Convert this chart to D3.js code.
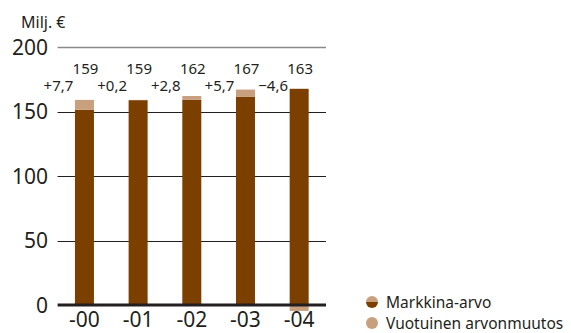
<!DOCTYPE html>
<html>
<head>
<meta charset="utf-8">
<script src="https://cdn.jsdelivr.net/npm/d3@7"></script>
<style>
  body { margin: 0; background: #fff; }
  text { font-family: "Noto Sans", sans-serif; fill: #231f20; }
</style>
</head>
<body>
<div id="chart"></div>
<script>
// Data
var years = ["-00", "-01", "-02", "-03", "-04"];
var totals = [159, 159, 162, 167, 163];
var changes = [7.7, 0.2, 2.8, 5.7, -4.6];
var totalLabels = ["159", "159", "162", "167", "163"];
var changeLabels = ["+7,7", "+0,2", "+2,8", "+5,7", "\u22124,6"];
var yTicks = [0, 50, 100, 150, 200];
var legendLabels = ["Markkina-arvo", "Vuotuinen arvonmuutos"];

var darkColor = "#7b3f00";
var lightColor = "#c9a07e";

var svgWidth = 571;
var svgHeight = 333;

var svg = d3.select("#chart")
  .append("svg")
  .attr("width", svgWidth)
  .attr("height", svgHeight);

// Scales
var xScale = d3.scaleBand()
  .domain(years)
  .range([57.6, 326])
  .paddingInner(0.646)
  .paddingOuter(0.323);

var yScale = d3.scaleLinear()
  .domain([0, 200])
  .range([305, 47]);

// Gridlines
svg.selectAll(".grid")
  .data(yTicks.filter(d => d > 0))
  .enter()
  .append("line")
  .attr("x1", 57.6)
  .attr("x2", 326)
  .attr("y1", d => Math.round(yScale(d)) + 0.5)
  .attr("y2", d => Math.round(yScale(d)) + 0.5)
  .attr("stroke", d => d === 200 ? "#8a8a8a" : "#231f20")
  .attr("stroke-width", d => d === 200 ? 1.5 : 1);

// Tick labels
svg.selectAll(".ytick")
  .data(yTicks)
  .enter()
  .append("text")
  .attr("x", 48)
  .attr("y", d => yScale(d) + 7.5)
  .attr("text-anchor", "end")
  .attr("font-size", "21px")
  .text(d => d);

svg.append("text")
  .attr("x", 21)
  .attr("y", 28)
  .attr("font-size", "16px")
  .text("Milj. \u20ac");

// Bars: base value (total minus change) in dark, change in light
var rows = years.map(function(y, i) {
  return { year: y, base: totals[i] - changes[i], change: changes[i] };
});

svg.selectAll(".dark")
  .data(rows)
  .enter()
  .append("rect")
  .attr("x", d => xScale(d.year))
  .attr("width", xScale.bandwidth())
  .attr("y", d => yScale(d.base))
  .attr("height", d => yScale(0) - yScale(d.base))
  .attr("fill", darkColor);

svg.selectAll(".light")
  .data(rows)
  .enter()
  .append("rect")
  .attr("x", d => xScale(d.year))
  .attr("width", xScale.bandwidth())
  .attr("y", d => d.change >= 0 ? yScale(d.base + d.change) : yScale(0))
  .attr("height", d => Math.abs(yScale(0) - yScale(Math.abs(d.change))))
  .attr("fill", lightColor);

// Zero line
svg.append("line")
  .attr("x1", 57.6)
  .attr("x2", 326)
  .attr("y1", yScale(0))
  .attr("y2", yScale(0))
  .attr("stroke", "#231f20")
  .attr("stroke-width", 3);

// Value labels
svg.selectAll(".total")
  .data(totalLabels)
  .enter()
  .append("text")
  .attr("x", (d, i) => xScale(years[i]) + xScale.bandwidth() / 2 + 1)
  .attr("y", 74)
  .attr("text-anchor", "middle")
  .attr("font-size", "15px")
  .text(d => d);

svg.selectAll(".change")
  .data(changeLabels)
  .enter()
  .append("text")
  .attr("x", (d, i) => xScale(years[i]) + xScale.bandwidth() / 2 - 26)
  .attr("y", 91)
  .attr("text-anchor", "middle")
  .attr("font-size", "15px")
  .text(d => d);

// X labels
svg.selectAll(".xtick")
  .data(years)
  .enter()
  .append("text")
  .attr("x", d => xScale(d) + xScale.bandwidth() / 2)
  .attr("y", 327)
  .attr("text-anchor", "middle")
  .attr("font-size", "21px")
  .text(d => d);

// Legend
var legend = svg.append("g").attr("transform", "translate(372, 302)");

legend.append("path")
  .attr("d", d3.arc()({ innerRadius: 0, outerRadius: 6, startAngle: -Math.PI / 2, endAngle: Math.PI / 2 }))
  .attr("fill", lightColor);
legend.append("path")
  .attr("d", d3.arc()({ innerRadius: 0, outerRadius: 6, startAngle: Math.PI / 2, endAngle: Math.PI * 1.5 }))
  .attr("fill", darkColor);
legend.append("circle")
  .attr("cx", 0)
  .attr("cy", 21)
  .attr("r", 6)
  .attr("fill", lightColor);

legend.selectAll(".ltext")
  .data(legendLabels)
  .enter()
  .append("text")
  .attr("x", 14)
  .attr("y", (d, i) => 5.5 + i * 21)
  .attr("font-size", "15.5px")
  .text(d => d);
</script>
</body>
</html>
